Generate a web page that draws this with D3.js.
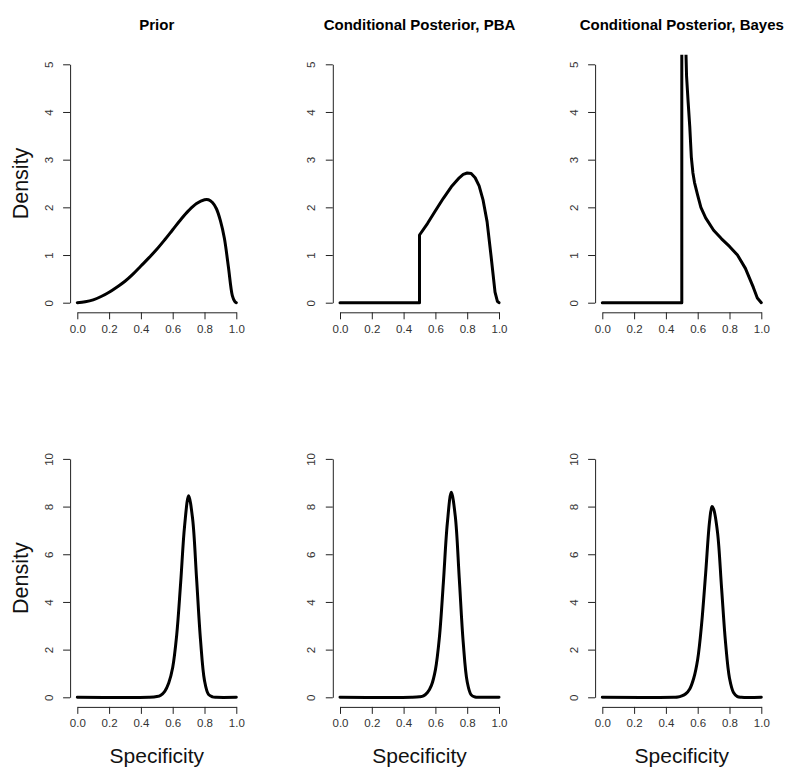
<!DOCTYPE html>
<html>
<head>
<meta charset="utf-8">
<script src="https://cdn.jsdelivr.net/npm/d3@7"></script>
<style>
  html, body { margin: 0; padding: 0; background: #fff; }
  svg { display: block; font-family: "Liberation Sans", Arial, sans-serif; }
</style>
</head>
<body>
<svg id="chart" width="800" height="784"></svg>
<script>
// ---------- data ----------
const panelTitles = ["Prior", "Conditional Posterior, PBA", "Conditional Posterior, Bayes"];
const xTickValues = [0, 0.2, 0.4, 0.6, 0.8, 1.0];
const yTicksTop = [0, 1, 2, 3, 4, 5];
const yTicksBottom = [0, 2, 4, 6, 8, 10];
const xLabel = "Specificity";
const yLabel = "Density";

// Top row
const priorTopX = [0, 0.05, 0.1, 0.15, 0.2, 0.25, 0.3, 0.35, 0.4, 0.45, 0.5, 0.55, 0.6, 0.65, 0.7, 0.75, 0.8, 0.825, 0.85, 0.875, 0.9, 0.925, 0.95, 0.975, 0.99, 1.0];
const priorTopY = [0, 0.02, 0.06, 0.13, 0.22, 0.33, 0.45, 0.6, 0.77, 0.94, 1.12, 1.32, 1.53, 1.74, 1.93, 2.08, 2.16, 2.16, 2.1, 1.97, 1.72, 1.35, 0.76, 0.15, 0.03, 0];

const pbaTopX = [0, 0.5, 0.5, 0.55, 0.6, 0.65, 0.7, 0.75, 0.775, 0.8, 0.825, 0.85, 0.875, 0.9, 0.925, 0.95, 0.975, 0.99, 1.0];
const pbaTopY = [0, 0, 1.42, 1.66, 1.93, 2.19, 2.43, 2.62, 2.69, 2.72, 2.71, 2.62, 2.45, 2.15, 1.7, 0.98, 0.22, 0.03, 0];

const bayesTopX = [0, 0.5, 0.5, 0.52, 0.53, 0.54, 0.55, 0.56, 0.57, 0.58, 0.6, 0.62, 0.65, 0.7, 0.75, 0.8, 0.85, 0.9, 0.95, 0.975, 1.0];
const bayesTopY = [0, 0, 30, 6.0, 4.75, 4.2, 3.7, 3.05, 2.72, 2.52, 2.25, 2.0, 1.78, 1.52, 1.34, 1.18, 1.0, 0.72, 0.32, 0.1, 0];

// Bottom row
const priorBotX = [0, 0.45, 0.5, 0.525, 0.55, 0.575, 0.6, 0.625, 0.65, 0.675, 0.7, 0.725, 0.75, 0.775, 0.8, 0.825, 0.85, 0.875, 1.0];
const priorBotY = [0, 0, 0.03, 0.09, 0.25, 0.6, 1.25, 2.6, 4.8, 7.2, 8.45, 7.5, 5.0, 2.4, 0.7, 0.12, 0.02, 0, 0];

const pbaBotX = [0, 0.45, 0.5, 0.525, 0.55, 0.575, 0.6, 0.625, 0.65, 0.675, 0.7, 0.725, 0.75, 0.775, 0.8, 0.825, 0.85, 0.875, 1.0];
const pbaBotY = [0, 0, 0.02, 0.06, 0.2, 0.5, 1.15, 2.5, 4.8, 7.3, 8.6, 7.6, 5.0, 2.3, 0.65, 0.1, 0.01, 0, 0];

const bayesBotX = [0, 0.45, 0.475, 0.5, 0.525, 0.55, 0.575, 0.6, 0.625, 0.65, 0.675, 0.69, 0.7, 0.725, 0.75, 0.775, 0.8, 0.825, 0.85, 0.875, 1.0];
const bayesBotY = [0, 0, 0.01, 0.06, 0.15, 0.35, 0.8, 1.6, 3.1, 5.2, 7.4, 8.0, 7.9, 6.9, 4.6, 2.3, 0.8, 0.2, 0.03, 0, 0];

const rows = [
  { yMax: 5, yTicks: yTicksTop, series: [[priorTopX, priorTopY, true], [pbaTopX, pbaTopY, false], [bayesTopX, bayesTopY, false]] },
  { yMax: 10, yTicks: yTicksBottom, series: [[priorBotX, priorBotY, true], [pbaBotX, pbaBotY, true], [bayesBotX, bayesBotY, true]] }
];

// ---------- layout ----------
const colX0 = [77.3, 340, 602.3];
const colW = 159;
const rowY0 = [302.7, 697.3];
const rowH = 238.4;
const axisGap = 9.6;
const yAxisGap = 7.2;

const svg = d3.select("#chart");
const defs = svg.append("defs");
const font = '"Liberation Sans", Arial, sans-serif';

rows.forEach((row, r) => {
  colX0.forEach((x0, c) => {
    const x = d3.scaleLinear().domain([0, 1]).range([x0, x0 + colW]);
    const y = d3.scaleLinear().domain([0, row.yMax]).range([rowY0[r], rowY0[r] - rowH]);
    const g = svg.append("g");

    const clipId = `clip-${r}-${c}`;
    defs.append("clipPath").attr("id", clipId).append("rect")
      .attr("x", x(-0.04)).attr("y", y(row.yMax * 1.04))
      .attr("width", x(1.04) - x(-0.04))
      .attr("height", y(-row.yMax * 0.04) - y(row.yMax * 1.04));

    const xAxis = d3.axisBottom(x).tickValues(xTickValues).tickSize(7).tickSizeOuter(0)
      .tickFormat(d3.format(".1f"));
    const gx = g.append("g").attr("transform", `translate(0,${rowY0[r] + axisGap})`).call(xAxis);
    gx.selectAll("text").attr("y", 20.6).attr("dy", null)
      .style("font-family", font).style("font-size", "11.5px").attr("fill", "#333");

    const yAxis = d3.axisLeft(y).tickValues(row.yTicks).tickSize(7).tickSizeOuter(0)
      .tickFormat(d3.format("d"));
    const gy = g.append("g").attr("transform", `translate(${x0 - yAxisGap},0)`).call(yAxis);
    gy.selectAll(".tick text")
      .attr("x", null).attr("dy", null)
      .attr("text-anchor", "middle")
      .attr("dominant-baseline", "central")
      .attr("transform", "translate(-21.5,0) rotate(-90)")
      .style("font-family", font).style("font-size", "11.5px").attr("fill", "#333");

    [gx, gy].forEach(a => {
      a.selectAll("path.domain, line").attr("stroke", "#222").attr("stroke-width", 1);
    });

    const [xs, ys, smooth] = row.series[c];
    const pts = xs.map((v, i) => [v, ys[i]]);
    const line = d3.line().x(d => x(d[0])).y(d => y(d[1]))
      .curve(smooth ? d3.curveCatmullRom.alpha(0.5) : d3.curveLinear);
    g.append("path")
      .attr("clip-path", `url(#${clipId})`)
      .attr("d", line(pts))
      .attr("fill", "none")
      .attr("stroke", "#000")
      .attr("stroke-width", 3)
      .attr("stroke-linejoin", "round")
      .attr("stroke-linecap", "round");

    if (r === 0) {
      svg.append("text")
        .attr("x", x(0.5)).attr("y", 30.3)
        .attr("text-anchor", "middle")
        .style("font-family", font).style("font-size", "15px").style("font-weight", "bold")
        .attr("fill", "#000")
        .text(panelTitles[c]);
    }
    if (r === 1) {
      svg.append("text")
        .attr("x", x(0.5)).attr("y", 763)
        .attr("text-anchor", "middle")
        .style("font-family", font).style("font-size", "21px")
        .attr("fill", "#111")
        .text(xLabel);
    }
    if (c === 0) {
      const yc = y(row.yMax / 2);
      svg.append("text")
        .attr("transform", `translate(20.7,${yc}) rotate(-90)`)
        .attr("text-anchor", "middle")
        .attr("dominant-baseline", "central")
        .style("font-family", font).style("font-size", "21.5px")
        .attr("fill", "#111")
        .text(yLabel);
    }
  });
});
</script>
</body>
</html>
